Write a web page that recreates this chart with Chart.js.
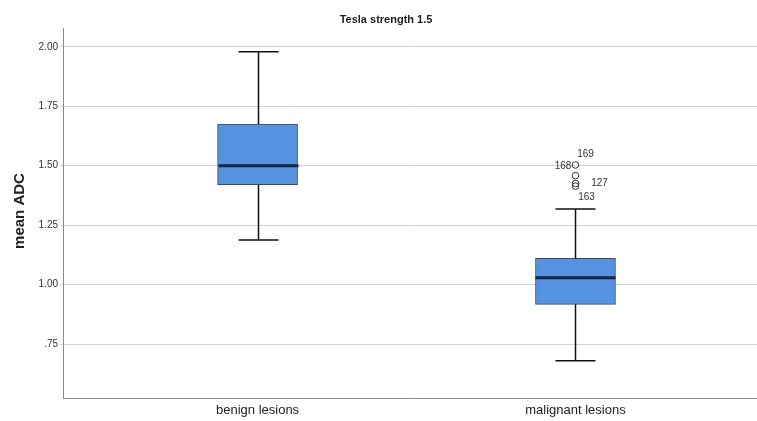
<!DOCTYPE html>
<html>
<head>
<meta charset="utf-8">
<script src="https://cdn.jsdelivr.net/npm/chart.js@4.4.1/dist/chart.umd.min.js"></script>
<style>
  html, body { margin: 0; padding: 0; background: #ffffff; }
  #wrap { width: 757px; height: 421px; }
</style>
</head>
<body>
<div id="wrap"><canvas id="chart" width="757" height="421"></canvas></div>
<script>
// Box plot summary per lesion group (mean ADC)
const categories   = ['benign lesions', 'malignant lesions'];
const whiskerLow   = [1.187, 0.680];
const quartile1    = [1.420, 0.917];
const medians      = [1.500, 1.029];
const quartile3    = [1.675, 1.110];
const whiskerHigh  = [1.979, 1.318];

// Outlying cases (group index, value, case number)
const outlierGroup = [1, 1, 1, 1];
const outlierValue = [1.503, 1.458, 1.425, 1.414];
const outlierCase  = ['169', '168', '127', '163'];

const yTicks = [0.75, 1.00, 1.25, 1.50, 1.75, 2.00];
const chartTitle = 'Tesla strength 1.5';
const yTitle = 'mean ADC';

const FONT = '"Liberation Sans", Arial, sans-serif';

// Case-number label offsets (pixels from each outlier marker)
const caseLabelOffset = [[10, -11], [-12.5, -9], [24, -0.5], [11, 11.5]];

const boxParts = {
  id: 'boxParts',
  afterDatasetsDraw(chart) {
    const { ctx, scales: { x, y } } = chart;
    ctx.save();
    categories.forEach((c, i) => {
      const cx = Math.round(x.getPixelForValue(i)) + 0.5;
      ctx.strokeStyle = '#111111';
      ctx.lineWidth = 1.5;
      ctx.beginPath();
      ctx.moveTo(cx, y.getPixelForValue(quartile3[i]));
      ctx.lineTo(cx, y.getPixelForValue(whiskerHigh[i]));
      ctx.moveTo(cx, y.getPixelForValue(quartile1[i]));
      ctx.lineTo(cx, y.getPixelForValue(whiskerLow[i]));
      const hi = y.getPixelForValue(whiskerHigh[i]);
      const lo = y.getPixelForValue(whiskerLow[i]);
      ctx.moveTo(cx - 20, hi); ctx.lineTo(cx + 20, hi);
      ctx.moveTo(cx - 20, lo); ctx.lineTo(cx + 20, lo);
      ctx.stroke();
      // median line
      ctx.strokeStyle = '#14264a';
      ctx.lineWidth = 3;
      const my = y.getPixelForValue(medians[i]);
      ctx.beginPath();
      ctx.moveTo(cx - 40, my); ctx.lineTo(cx + 40, my);
      ctx.stroke();
    });
    ctx.restore();
  },
  afterDraw(chart) {
    const { ctx, scales: { x, y } } = chart;
    ctx.save();
    ctx.fillStyle = '#222222';
    // title
    ctx.font = 'bold 11px ' + FONT;
    ctx.textAlign = 'center';
    ctx.textBaseline = 'middle';
    ctx.fillText(chartTitle, 386, 20);
    // y axis title
    ctx.save();
    ctx.translate(20, 211);
    ctx.rotate(-Math.PI / 2);
    ctx.font = 'bold 15px ' + FONT;
    ctx.fillText(yTitle, 0, 0);
    ctx.restore();
    // outlier case numbers
    ctx.font = '10px ' + FONT;
    ctx.fillStyle = '#333333';
    outlierValue.forEach((v, k) => {
      const px = x.getPixelForValue(outlierGroup[k]);
      const py = y.getPixelForValue(v);
      const off = caseLabelOffset[k];
      ctx.fillText(outlierCase[k], px + off[0], py + off[1]);
    });
    ctx.restore();
  }
};

new Chart(document.getElementById('chart'), {
  type: 'bar',
  data: {
    datasets: [
      {
        type: 'bar',
        data: categories.map((c, i) => ({ x: i, y: [quartile1[i], quartile3[i]] })),
        backgroundColor: '#5592e0',
        borderColor: '#3b4a63',
        borderWidth: 1,
        borderSkipped: false,
        barThickness: 80,
        order: 2
      },
      {
        type: 'scatter',
        data: outlierValue.map((v, k) => ({ x: outlierGroup[k], y: v })),
        pointRadius: 3.3,
        pointBorderWidth: 1,
        borderColor: '#333333',
        backgroundColor: 'rgba(0,0,0,0)',
        order: 1
      }
    ]
  },
  options: {
    responsive: false,
    animation: false,
    layout: { autoPadding: false, padding: { top: 28, right: 0, left: 0, bottom: 0 } },
    plugins: { legend: { display: false }, tooltip: { enabled: false }, title: { display: false } },
    scales: {
      x: {
        type: 'linear',
        offset: false,
        min: -0.612,
        max: 1.571,
        grid: { display: false, drawTicks: false },
        border: { color: '#8a8a8a', width: 1 },
        ticks: {
          autoSkip: false,
          maxRotation: 0,
          padding: 5,
          color: '#222222',
          font: { family: FONT, size: 13 },
          callback: (v) => categories[v]
        },
        afterBuildTicks: (s) => { s.ticks = categories.map((c, i) => ({ value: i })); },
        afterFit: (s) => { s.height = 23; }
      },
      y: {
        min: 0.523,
        max: 2.079,
        grid: { color: '#d2d2d2', lineWidth: 1, drawTicks: true, tickLength: 3 },
        border: { color: '#8a8a8a', width: 1 },
        ticks: {
          padding: 2,
          color: '#333333',
          font: { family: FONT, size: 10 },
          callback: (v) => v < 1 ? v.toFixed(2).replace(/^0/, '') : v.toFixed(2)
        },
        afterBuildTicks: (s) => { s.ticks = yTicks.map(v => ({ value: v })); },
        afterFit: (s) => { s.width = 63; }
      }
    }
  },
  plugins: [boxParts]
});
</script>
</body>
</html>
